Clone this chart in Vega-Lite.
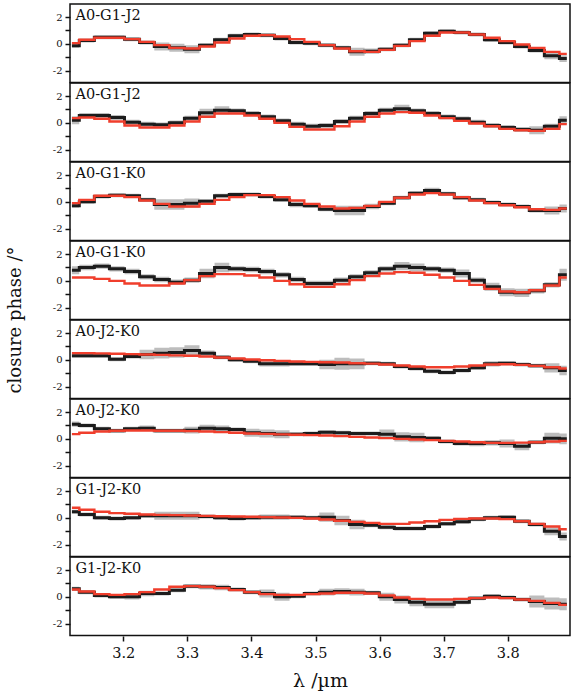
{
  "$schema": "https://vega.github.io/schema/vega-lite/v6.json",
  "description": "Closure phases per baseline triangle: data (black, with grey error band) and model (red)",
  "padding": {"left": 6, "top": 3, "right": 1, "bottom": 2},
  "config": {
    "font": "DejaVu Serif",
    "view": {"stroke": "#111111", "strokeWidth": 1.5},
    "axis": {
      "grid": false,
      "domain": false,
      "tickColor": "#111111",
      "tickWidth": 1.5,
      "labelColor": "#111111",
      "titleColor": "#111111",
      "labelFont": "DejaVu Serif",
      "titleFont": "DejaVu Serif",
      "titleFontWeight": "normal",
      "labelOverlap": false
    },
    "axisY": {
      "tickCount": 5,
      "labelExpr": "abs(datum.value) == 1 ? '' : replace(datum.label, '−', '-')",
      "labelFontSize": 10,
      "labelPadding": 3,
      "tickSize": 5
    }
  },
  "data": {
    "values": [
      {"p":1,"l":3.12,"c":-0.15,"e":0.15,"m":0.05},
      {"p":1,"l":3.143,"c":0.25,"e":0.15,"m":0.3},
      {"p":1,"l":3.167,"c":0.5,"e":0.15,"m":0.45},
      {"p":1,"l":3.19,"c":0.5,"e":0.15,"m":0.45},
      {"p":1,"l":3.214,"c":0.35,"e":0.15,"m":0.35},
      {"p":1,"l":3.237,"c":0.1,"e":0.15,"m":0.15},
      {"p":1,"l":3.26,"c":-0.2,"e":0.3,"m":-0.1},
      {"p":1,"l":3.284,"c":-0.3,"e":0.3,"m":-0.3},
      {"p":1,"l":3.307,"c":-0.4,"e":0.3,"m":-0.35},
      {"p":1,"l":3.331,"c":-0.1,"e":0.15,"m":-0.2},
      {"p":1,"l":3.354,"c":0.3,"e":0.15,"m":0.1},
      {"p":1,"l":3.377,"c":0.6,"e":0.15,"m":0.4},
      {"p":1,"l":3.401,"c":0.7,"e":0.15,"m":0.6},
      {"p":1,"l":3.424,"c":0.65,"e":0.15,"m":0.65},
      {"p":1,"l":3.448,"c":0.4,"e":0.15,"m":0.55},
      {"p":1,"l":3.471,"c":0.1,"e":0.15,"m":0.35},
      {"p":1,"l":3.494,"c":0.05,"e":0.15,"m":0.15},
      {"p":1,"l":3.518,"c":-0.1,"e":0.15,"m":-0.1},
      {"p":1,"l":3.541,"c":-0.3,"e":0.15,"m":-0.35},
      {"p":1,"l":3.565,"c":-0.6,"e":0.3,"m":-0.55},
      {"p":1,"l":3.588,"c":-0.55,"e":0.2,"m":-0.6},
      {"p":1,"l":3.611,"c":-0.4,"e":0.15,"m":-0.45},
      {"p":1,"l":3.635,"c":-0.1,"e":0.15,"m":-0.15},
      {"p":1,"l":3.658,"c":0.3,"e":0.15,"m":0.2},
      {"p":1,"l":3.682,"c":0.8,"e":0.15,"m":0.6},
      {"p":1,"l":3.705,"c":0.95,"e":0.15,"m":0.85},
      {"p":1,"l":3.728,"c":0.85,"e":0.15,"m":0.85},
      {"p":1,"l":3.752,"c":0.7,"e":0.15,"m":0.7},
      {"p":1,"l":3.775,"c":0.3,"e":0.15,"m":0.45},
      {"p":1,"l":3.799,"c":0.1,"e":0.15,"m":0.2},
      {"p":1,"l":3.822,"c":-0.2,"e":0.15,"m":-0.05},
      {"p":1,"l":3.845,"c":-0.5,"e":0.15,"m":-0.3},
      {"p":1,"l":3.869,"c":-0.9,"e":0.25,"m":-0.6},
      {"p":1,"l":3.892,"c":-1.1,"e":0.25,"m":-0.75},

      {"p":2,"l":3.12,"c":0.2,"e":0.3,"m":0.35},
      {"p":2,"l":3.143,"c":0.55,"e":0.18,"m":0.4},
      {"p":2,"l":3.167,"c":0.55,"e":0.18,"m":0.3},
      {"p":2,"l":3.19,"c":0.4,"e":0.18,"m":0.1},
      {"p":2,"l":3.214,"c":0.05,"e":0.18,"m":-0.2},
      {"p":2,"l":3.237,"c":-0.1,"e":0.18,"m":-0.35},
      {"p":2,"l":3.26,"c":-0.15,"e":0.18,"m":-0.35},
      {"p":2,"l":3.284,"c":0.0,"e":0.18,"m":-0.2},
      {"p":2,"l":3.307,"c":0.35,"e":0.18,"m":0.1},
      {"p":2,"l":3.331,"c":0.75,"e":0.3,"m":0.45},
      {"p":2,"l":3.354,"c":0.95,"e":0.3,"m":0.7},
      {"p":2,"l":3.377,"c":0.9,"e":0.18,"m":0.7},
      {"p":2,"l":3.401,"c":0.7,"e":0.18,"m":0.55},
      {"p":2,"l":3.424,"c":0.45,"e":0.18,"m":0.3},
      {"p":2,"l":3.448,"c":0.15,"e":0.18,"m":0.0},
      {"p":2,"l":3.471,"c":-0.1,"e":0.18,"m":-0.3},
      {"p":2,"l":3.494,"c":-0.25,"e":0.18,"m":-0.5},
      {"p":2,"l":3.518,"c":-0.2,"e":0.18,"m":-0.5},
      {"p":2,"l":3.541,"c":0.1,"e":0.18,"m":-0.25},
      {"p":2,"l":3.565,"c":0.35,"e":0.18,"m":0.1},
      {"p":2,"l":3.588,"c":0.7,"e":0.18,"m":0.45},
      {"p":2,"l":3.611,"c":0.95,"e":0.18,"m":0.7},
      {"p":2,"l":3.635,"c":1.05,"e":0.3,"m":0.8},
      {"p":2,"l":3.658,"c":0.9,"e":0.18,"m":0.75},
      {"p":2,"l":3.682,"c":0.7,"e":0.18,"m":0.55},
      {"p":2,"l":3.705,"c":0.45,"e":0.18,"m":0.35},
      {"p":2,"l":3.728,"c":0.3,"e":0.18,"m":0.15},
      {"p":2,"l":3.752,"c":0.05,"e":0.18,"m":-0.05},
      {"p":2,"l":3.775,"c":-0.2,"e":0.18,"m":-0.25},
      {"p":2,"l":3.799,"c":-0.35,"e":0.18,"m":-0.45},
      {"p":2,"l":3.822,"c":-0.5,"e":0.18,"m":-0.55},
      {"p":2,"l":3.845,"c":-0.55,"e":0.3,"m":-0.6},
      {"p":2,"l":3.869,"c":-0.25,"e":0.18,"m":-0.45},
      {"p":2,"l":3.892,"c":0.2,"e":0.3,"m":-0.1},

      {"p":3,"l":3.12,"c":-0.3,"e":0.15,"m":-0.1},
      {"p":3,"l":3.143,"c":0.0,"e":0.15,"m":0.15},
      {"p":3,"l":3.167,"c":0.4,"e":0.15,"m":0.45},
      {"p":3,"l":3.19,"c":0.5,"e":0.15,"m":0.45},
      {"p":3,"l":3.214,"c":0.45,"e":0.15,"m":0.35},
      {"p":3,"l":3.237,"c":0.15,"e":0.15,"m":0.1},
      {"p":3,"l":3.26,"c":-0.2,"e":0.4,"m":-0.15},
      {"p":3,"l":3.284,"c":-0.2,"e":0.4,"m":-0.35},
      {"p":3,"l":3.307,"c":-0.1,"e":0.35,"m":-0.35},
      {"p":3,"l":3.331,"c":0.05,"e":0.15,"m":-0.15},
      {"p":3,"l":3.354,"c":0.45,"e":0.15,"m":0.15},
      {"p":3,"l":3.377,"c":0.55,"e":0.15,"m":0.35},
      {"p":3,"l":3.401,"c":0.55,"e":0.15,"m":0.5},
      {"p":3,"l":3.424,"c":0.4,"e":0.15,"m":0.5},
      {"p":3,"l":3.448,"c":0.15,"e":0.15,"m":0.35},
      {"p":3,"l":3.471,"c":-0.2,"e":0.2,"m":0.1},
      {"p":3,"l":3.494,"c":-0.3,"e":0.15,"m":-0.15},
      {"p":3,"l":3.518,"c":-0.55,"e":0.15,"m":-0.35},
      {"p":3,"l":3.541,"c":-0.65,"e":0.35,"m":-0.5},
      {"p":3,"l":3.565,"c":-0.65,"e":0.35,"m":-0.45},
      {"p":3,"l":3.588,"c":-0.35,"e":0.2,"m":-0.3},
      {"p":3,"l":3.611,"c":-0.1,"e":0.15,"m":0.0},
      {"p":3,"l":3.635,"c":0.3,"e":0.15,"m":0.3},
      {"p":3,"l":3.658,"c":0.65,"e":0.15,"m":0.55},
      {"p":3,"l":3.682,"c":0.85,"e":0.2,"m":0.65},
      {"p":3,"l":3.705,"c":0.6,"e":0.15,"m":0.55},
      {"p":3,"l":3.728,"c":0.3,"e":0.15,"m":0.35},
      {"p":3,"l":3.752,"c":0.15,"e":0.15,"m":0.1},
      {"p":3,"l":3.775,"c":-0.05,"e":0.15,"m":-0.1},
      {"p":3,"l":3.799,"c":-0.2,"e":0.15,"m":-0.25},
      {"p":3,"l":3.822,"c":-0.35,"e":0.15,"m":-0.4},
      {"p":3,"l":3.845,"c":-0.65,"e":0.15,"m":-0.55},
      {"p":3,"l":3.869,"c":-0.65,"e":0.3,"m":-0.6},
      {"p":3,"l":3.892,"c":-0.5,"e":0.3,"m":-0.5},

      {"p":4,"l":3.12,"c":0.8,"e":0.3,"m":0.25},
      {"p":4,"l":3.143,"c":1.0,"e":0.2,"m":0.25},
      {"p":4,"l":3.167,"c":1.1,"e":0.2,"m":0.15},
      {"p":4,"l":3.19,"c":0.9,"e":0.2,"m":0.0},
      {"p":4,"l":3.214,"c":0.7,"e":0.2,"m":-0.2},
      {"p":4,"l":3.237,"c":0.3,"e":0.2,"m":-0.35},
      {"p":4,"l":3.26,"c":0.1,"e":0.2,"m":-0.35},
      {"p":4,"l":3.284,"c":-0.1,"e":0.2,"m":-0.2},
      {"p":4,"l":3.307,"c":0.05,"e":0.2,"m":0.05},
      {"p":4,"l":3.331,"c":0.55,"e":0.35,"m":0.35},
      {"p":4,"l":3.354,"c":1.0,"e":0.35,"m":0.5},
      {"p":4,"l":3.377,"c":0.9,"e":0.2,"m":0.5},
      {"p":4,"l":3.401,"c":0.85,"e":0.2,"m":0.4},
      {"p":4,"l":3.424,"c":0.7,"e":0.2,"m":0.25},
      {"p":4,"l":3.448,"c":0.45,"e":0.2,"m":0.0},
      {"p":4,"l":3.471,"c":0.1,"e":0.2,"m":-0.25},
      {"p":4,"l":3.494,"c":-0.2,"e":0.2,"m":-0.45},
      {"p":4,"l":3.518,"c":-0.2,"e":0.2,"m":-0.45},
      {"p":4,"l":3.541,"c":0.05,"e":0.2,"m":-0.25},
      {"p":4,"l":3.565,"c":0.3,"e":0.2,"m":0.05},
      {"p":4,"l":3.588,"c":0.6,"e":0.2,"m":0.35},
      {"p":4,"l":3.611,"c":0.9,"e":0.2,"m":0.55},
      {"p":4,"l":3.635,"c":1.1,"e":0.3,"m":0.65},
      {"p":4,"l":3.658,"c":1.0,"e":0.3,"m":0.6},
      {"p":4,"l":3.682,"c":0.9,"e":0.2,"m":0.45},
      {"p":4,"l":3.705,"c":0.8,"e":0.2,"m":0.25},
      {"p":4,"l":3.728,"c":0.55,"e":0.3,"m":0.0},
      {"p":4,"l":3.752,"c":0.05,"e":0.2,"m":-0.3},
      {"p":4,"l":3.775,"c":-0.45,"e":0.3,"m":-0.6},
      {"p":4,"l":3.799,"c":-0.85,"e":0.3,"m":-0.8},
      {"p":4,"l":3.822,"c":-0.9,"e":0.3,"m":-0.85},
      {"p":4,"l":3.845,"c":-0.75,"e":0.2,"m":-0.7},
      {"p":4,"l":3.869,"c":-0.3,"e":0.2,"m":-0.35},
      {"p":4,"l":3.892,"c":0.45,"e":0.45,"m":0.25},

      {"p":5,"l":3.12,"c":0.3,"e":0.15,"m":0.5},
      {"p":5,"l":3.143,"c":0.3,"e":0.15,"m":0.5},
      {"p":5,"l":3.167,"c":0.3,"e":0.15,"m":0.48},
      {"p":5,"l":3.19,"c":0.05,"e":0.15,"m":0.45},
      {"p":5,"l":3.214,"c":0.25,"e":0.15,"m":0.43},
      {"p":5,"l":3.237,"c":0.4,"e":0.35,"m":0.4},
      {"p":5,"l":3.26,"c":0.5,"e":0.4,"m":0.37},
      {"p":5,"l":3.284,"c":0.55,"e":0.4,"m":0.33},
      {"p":5,"l":3.307,"c":0.7,"e":0.4,"m":0.3},
      {"p":5,"l":3.331,"c":0.5,"e":0.2,"m":0.25},
      {"p":5,"l":3.354,"c":0.2,"e":0.15,"m":0.17},
      {"p":5,"l":3.377,"c":0.0,"e":0.15,"m":0.1},
      {"p":5,"l":3.401,"c":-0.1,"e":0.15,"m":0.03},
      {"p":5,"l":3.424,"c":-0.3,"e":0.2,"m":-0.03},
      {"p":5,"l":3.448,"c":-0.3,"e":0.2,"m":-0.08},
      {"p":5,"l":3.471,"c":-0.3,"e":0.15,"m":-0.12},
      {"p":5,"l":3.494,"c":-0.3,"e":0.15,"m":-0.15},
      {"p":5,"l":3.518,"c":-0.35,"e":0.35,"m":-0.18},
      {"p":5,"l":3.541,"c":-0.3,"e":0.45,"m":-0.2},
      {"p":5,"l":3.565,"c":-0.3,"e":0.4,"m":-0.25},
      {"p":5,"l":3.588,"c":-0.25,"e":0.15,"m":-0.28},
      {"p":5,"l":3.611,"c":-0.3,"e":0.15,"m":-0.35},
      {"p":5,"l":3.635,"c":-0.5,"e":0.15,"m":-0.42},
      {"p":5,"l":3.658,"c":-0.65,"e":0.15,"m":-0.5},
      {"p":5,"l":3.682,"c":-0.85,"e":0.15,"m":-0.55},
      {"p":5,"l":3.705,"c":-0.95,"e":0.15,"m":-0.55},
      {"p":5,"l":3.728,"c":-0.8,"e":0.15,"m":-0.5},
      {"p":5,"l":3.752,"c":-0.6,"e":0.15,"m":-0.42},
      {"p":5,"l":3.775,"c":-0.3,"e":0.2,"m":-0.35},
      {"p":5,"l":3.799,"c":-0.25,"e":0.15,"m":-0.33},
      {"p":5,"l":3.822,"c":-0.35,"e":0.15,"m":-0.38},
      {"p":5,"l":3.845,"c":-0.45,"e":0.15,"m":-0.45},
      {"p":5,"l":3.869,"c":-0.6,"e":0.35,"m":-0.55},
      {"p":5,"l":3.892,"c":-0.8,"e":0.35,"m":-0.65},

      {"p":6,"l":3.12,"c":1.1,"e":0.2,"m":0.35},
      {"p":6,"l":3.143,"c":1.0,"e":0.15,"m":0.45},
      {"p":6,"l":3.167,"c":0.75,"e":0.15,"m":0.55},
      {"p":6,"l":3.19,"c":0.6,"e":0.15,"m":0.6},
      {"p":6,"l":3.214,"c":0.75,"e":0.15,"m":0.62},
      {"p":6,"l":3.237,"c":0.8,"e":0.2,"m":0.62},
      {"p":6,"l":3.26,"c":0.6,"e":0.15,"m":0.6},
      {"p":6,"l":3.284,"c":0.6,"e":0.15,"m":0.6},
      {"p":6,"l":3.307,"c":0.65,"e":0.25,"m":0.58},
      {"p":6,"l":3.331,"c":0.8,"e":0.25,"m":0.55},
      {"p":6,"l":3.354,"c":0.75,"e":0.25,"m":0.5},
      {"p":6,"l":3.377,"c":0.7,"e":0.15,"m":0.45},
      {"p":6,"l":3.401,"c":0.45,"e":0.3,"m":0.4},
      {"p":6,"l":3.424,"c":0.4,"e":0.3,"m":0.37},
      {"p":6,"l":3.448,"c":0.35,"e":0.3,"m":0.33},
      {"p":6,"l":3.471,"c":0.35,"e":0.15,"m":0.3},
      {"p":6,"l":3.494,"c":0.4,"e":0.15,"m":0.28},
      {"p":6,"l":3.518,"c":0.5,"e":0.15,"m":0.25},
      {"p":6,"l":3.541,"c":0.45,"e":0.15,"m":0.2},
      {"p":6,"l":3.565,"c":0.4,"e":0.15,"m":0.15},
      {"p":6,"l":3.588,"c":0.4,"e":0.15,"m":0.1},
      {"p":6,"l":3.611,"c":0.35,"e":0.35,"m":0.05},
      {"p":6,"l":3.635,"c":0.15,"e":0.35,"m":0.0},
      {"p":6,"l":3.658,"c":0.1,"e":0.35,"m":-0.05},
      {"p":6,"l":3.682,"c":0.05,"e":0.15,"m":-0.1},
      {"p":6,"l":3.705,"c":-0.2,"e":0.15,"m":-0.15},
      {"p":6,"l":3.728,"c":-0.35,"e":0.15,"m":-0.2},
      {"p":6,"l":3.752,"c":-0.35,"e":0.2,"m":-0.25},
      {"p":6,"l":3.775,"c":-0.3,"e":0.2,"m":-0.3},
      {"p":6,"l":3.799,"c":-0.35,"e":0.3,"m":-0.3},
      {"p":6,"l":3.822,"c":-0.55,"e":0.3,"m":-0.28},
      {"p":6,"l":3.845,"c":-0.25,"e":0.15,"m":-0.25},
      {"p":6,"l":3.869,"c":0.05,"e":0.4,"m":-0.2},
      {"p":6,"l":3.892,"c":0.0,"e":0.4,"m":-0.15},

      {"p":7,"l":3.12,"c":0.45,"e":0.15,"m":0.75},
      {"p":7,"l":3.143,"c":0.25,"e":0.15,"m":0.6},
      {"p":7,"l":3.167,"c":0.0,"e":0.15,"m":0.45},
      {"p":7,"l":3.19,"c":-0.05,"e":0.15,"m":0.35},
      {"p":7,"l":3.214,"c":0.0,"e":0.15,"m":0.3},
      {"p":7,"l":3.237,"c":0.15,"e":0.15,"m":0.25},
      {"p":7,"l":3.26,"c":0.15,"e":0.3,"m":0.22},
      {"p":7,"l":3.284,"c":0.15,"e":0.3,"m":0.2},
      {"p":7,"l":3.307,"c":0.15,"e":0.3,"m":0.18},
      {"p":7,"l":3.331,"c":0.1,"e":0.15,"m":0.15},
      {"p":7,"l":3.354,"c":0.0,"e":0.15,"m":0.12},
      {"p":7,"l":3.377,"c":-0.05,"e":0.15,"m":0.1},
      {"p":7,"l":3.401,"c":0.0,"e":0.15,"m":0.08},
      {"p":7,"l":3.424,"c":0.05,"e":0.2,"m":0.05},
      {"p":7,"l":3.448,"c":0.05,"e":0.2,"m":0.02},
      {"p":7,"l":3.471,"c":0.05,"e":0.15,"m":0.0},
      {"p":7,"l":3.494,"c":0.0,"e":0.15,"m":-0.05},
      {"p":7,"l":3.518,"c":0.05,"e":0.35,"m":-0.12},
      {"p":7,"l":3.541,"c":-0.2,"e":0.35,"m":-0.22},
      {"p":7,"l":3.565,"c":-0.5,"e":0.35,"m":-0.3},
      {"p":7,"l":3.588,"c":-0.55,"e":0.15,"m":-0.38},
      {"p":7,"l":3.611,"c":-0.7,"e":0.15,"m":-0.45},
      {"p":7,"l":3.635,"c":-0.8,"e":0.15,"m":-0.45},
      {"p":7,"l":3.658,"c":-0.8,"e":0.15,"m":-0.35},
      {"p":7,"l":3.682,"c":-0.65,"e":0.15,"m":-0.25},
      {"p":7,"l":3.705,"c":-0.45,"e":0.15,"m":-0.15},
      {"p":7,"l":3.728,"c":-0.3,"e":0.15,"m":-0.08},
      {"p":7,"l":3.752,"c":-0.1,"e":0.15,"m":-0.05},
      {"p":7,"l":3.775,"c":0.0,"e":0.15,"m":-0.05},
      {"p":7,"l":3.799,"c":0.05,"e":0.15,"m":-0.1},
      {"p":7,"l":3.822,"c":-0.25,"e":0.15,"m":-0.25},
      {"p":7,"l":3.845,"c":-0.5,"e":0.15,"m":-0.45},
      {"p":7,"l":3.869,"c":-1.0,"e":0.3,"m":-0.65},
      {"p":7,"l":3.892,"c":-1.4,"e":0.3,"m":-0.85},

      {"p":8,"l":3.12,"c":0.6,"e":0.15,"m":0.55},
      {"p":8,"l":3.143,"c":0.35,"e":0.15,"m":0.4},
      {"p":8,"l":3.167,"c":0.1,"e":0.15,"m":0.2},
      {"p":8,"l":3.19,"c":0.0,"e":0.15,"m":0.15},
      {"p":8,"l":3.214,"c":0.0,"e":0.2,"m":0.2},
      {"p":8,"l":3.237,"c":0.25,"e":0.2,"m":0.35},
      {"p":8,"l":3.26,"c":0.25,"e":0.15,"m":0.55},
      {"p":8,"l":3.284,"c":0.5,"e":0.15,"m":0.75},
      {"p":8,"l":3.307,"c":0.8,"e":0.15,"m":0.8},
      {"p":8,"l":3.331,"c":0.75,"e":0.2,"m":0.75},
      {"p":8,"l":3.354,"c":0.7,"e":0.2,"m":0.65},
      {"p":8,"l":3.377,"c":0.55,"e":0.15,"m":0.5},
      {"p":8,"l":3.401,"c":0.35,"e":0.15,"m":0.35},
      {"p":8,"l":3.424,"c":0.25,"e":0.3,"m":0.2},
      {"p":8,"l":3.448,"c":0.0,"e":0.3,"m":0.15},
      {"p":8,"l":3.471,"c":0.05,"e":0.15,"m":0.15},
      {"p":8,"l":3.494,"c":0.25,"e":0.15,"m":0.2},
      {"p":8,"l":3.518,"c":0.35,"e":0.25,"m":0.25},
      {"p":8,"l":3.541,"c":0.4,"e":0.25,"m":0.3},
      {"p":8,"l":3.565,"c":0.35,"e":0.25,"m":0.3},
      {"p":8,"l":3.588,"c":0.3,"e":0.15,"m":0.25},
      {"p":8,"l":3.611,"c":0.0,"e":0.3,"m":0.1},
      {"p":8,"l":3.635,"c":-0.2,"e":0.3,"m":-0.05},
      {"p":8,"l":3.658,"c":-0.4,"e":0.3,"m":-0.15},
      {"p":8,"l":3.682,"c":-0.55,"e":0.3,"m":-0.2},
      {"p":8,"l":3.705,"c":-0.55,"e":0.3,"m":-0.2},
      {"p":8,"l":3.728,"c":-0.4,"e":0.15,"m":-0.15},
      {"p":8,"l":3.752,"c":-0.1,"e":0.15,"m":-0.1},
      {"p":8,"l":3.775,"c":0.05,"e":0.15,"m":-0.05},
      {"p":8,"l":3.799,"c":-0.05,"e":0.15,"m":-0.1},
      {"p":8,"l":3.822,"c":-0.2,"e":0.15,"m":-0.2},
      {"p":8,"l":3.845,"c":-0.35,"e":0.45,"m":-0.3},
      {"p":8,"l":3.869,"c":-0.5,"e":0.45,"m":-0.45},
      {"p":8,"l":3.892,"c":-0.55,"e":0.45,"m":-0.6}
    ]
  },
  "transform": [
    {
      "lookup": "p",
      "from": {
        "data": {
          "values": [
            {"p": 1, "name": "A0-G1-J2"},
            {"p": 2, "name": "A0-G1-J2"},
            {"p": 3, "name": "A0-G1-K0"},
            {"p": 4, "name": "A0-G1-K0"},
            {"p": 5, "name": "A0-J2-K0"},
            {"p": 6, "name": "A0-J2-K0"},
            {"p": 7, "name": "G1-J2-K0"},
            {"p": 8, "name": "G1-J2-K0"}
          ]
        },
        "key": "p",
        "fields": ["name"]
      }
    }
  ],
  "facet": {
    "row": {
      "field": "p",
      "type": "ordinal",
      "title": "closure phase /°",
      "header": {
        "labels": false,
        "titleFont": "DejaVu Serif",
        "titleFontSize": 18,
        "titleFontWeight": "normal",
        "titleColor": "#111111",
        "titlePadding": 17
      }
    }
  },
  "spacing": 0,
  "bounds": "flush",
  "spec": {
    "width": 500,
    "height": 78.6,
    "encoding": {
      "x": {
        "field": "l",
        "type": "quantitative",
        "title": "λ /µm",
        "scale": {"domain": [3.117, 3.897], "nice": false, "zero": false},
        "axis": {
          "values": [3.2, 3.3, 3.4, 3.5, 3.6, 3.7, 3.8],
          "format": ".1f",
          "labelFontSize": 14.5,
          "labelPadding": 5,
          "tickSize": 5,
          "titleFontSize": 19,
          "titlePadding": 12
        }
      }
    },
    "layer": [
      {
        "mark": {"type": "errorband", "interpolate": "step", "band": {"color": "#bdbdbd", "opacity": 1}},
        "encoding": {
          "y": {
            "field": "c",
            "type": "quantitative",
            "title": null,
            "scale": {"domain": [-2.9, 2.98], "nice": false, "zero": false}
          },
          "yError": {"field": "e"}
        }
      },
      {
        "mark": {"type": "line", "interpolate": "step", "color": "#1c1c1c", "strokeWidth": 3},
        "encoding": {
          "y": {"field": "c", "type": "quantitative", "title": null, "scale": {"domain": [-2.9, 2.98], "nice": false, "zero": false}}
        }
      },
      {
        "mark": {"type": "line", "interpolate": "step", "color": "#f03e2c", "strokeWidth": 2.4},
        "encoding": {
          "y": {"field": "m", "type": "quantitative", "title": null, "scale": {"domain": [-2.9, 2.98], "nice": false, "zero": false}}
        }
      },
      {
        "transform": [{"filter": "datum.l < 3.13"}],
        "mark": {"type": "text", "align": "left", "baseline": "middle", "fontSize": 14.5, "color": "#111111", "font": "DejaVu Serif"},
        "encoding": {
          "x": {"datum": 3.1255},
          "y": {"datum": 2.05},
          "text": {"field": "name"}
        }
      }
    ]
  }
}
